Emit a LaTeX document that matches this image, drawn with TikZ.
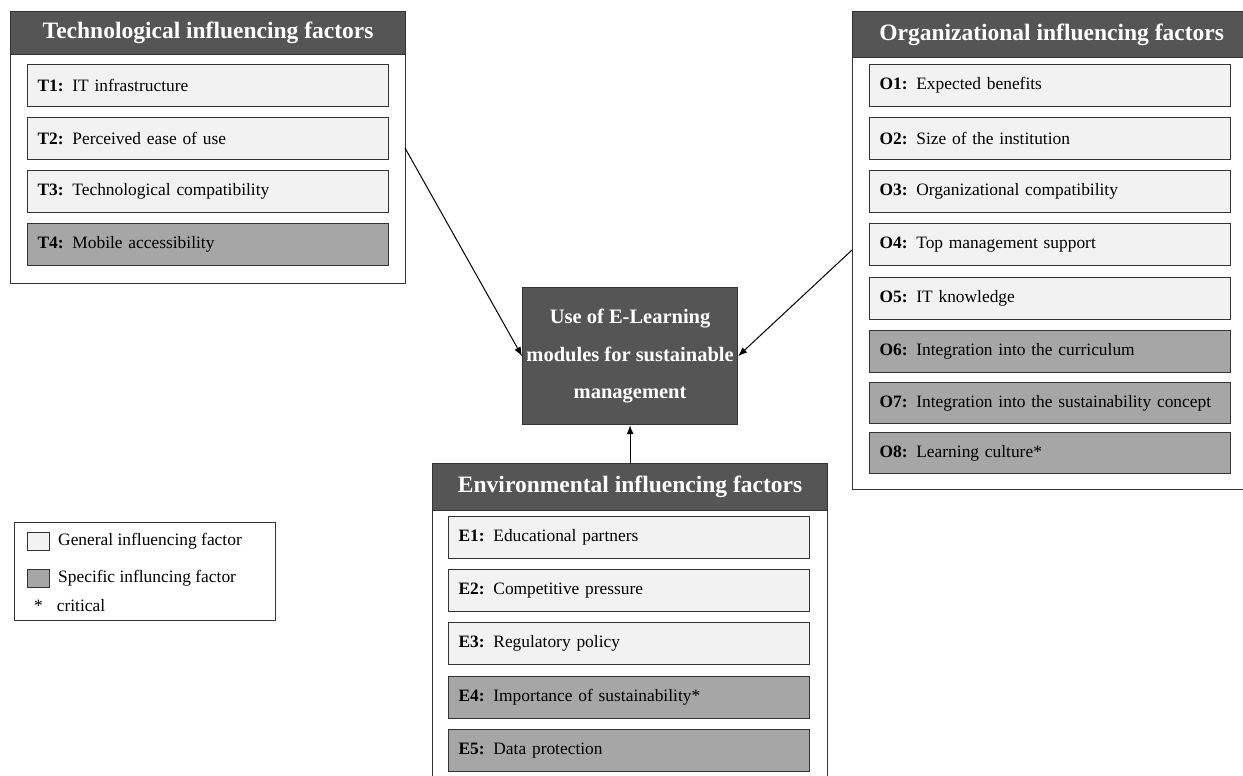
\documentclass[tikz,border=0pt]{standalone}
\usepackage{fontspec}
\setmainfont{Liberation Serif}
\usetikzlibrary{arrows.meta,calc}
\definecolor{headgray}{HTML}{555555}
\definecolor{lightfill}{HTML}{F2F2F2}
\definecolor{darkfill}{HTML}{A6A6A6}
\definecolor{edgegray}{HTML}{333333}
\tikzset{
  panel/.style={draw=edgegray, line width=1.2pt, fill=white, anchor=north west, inner sep=0pt},
  headbox/.style={draw=edgegray, line width=1.2pt, fill=headgray, anchor=north west, inner sep=0pt,
     text=white, font=\fontsize{23.5}{28}\selectfont\bfseries},
  item/.style={draw=edgegray, line width=1.2pt, anchor=north west, minimum height=42pt,
     text width=341pt, inner xsep=10pt, inner ysep=0pt, align=left,
     font=\fontsize{17.4}{20}\selectfont},
  gen/.style={item, fill=lightfill},
  spec/.style={item, fill=darkfill},
  centerbox/.style={draw=edgegray, line width=1.2pt, fill=headgray, anchor=north west,
     minimum width=215pt, minimum height=137pt, inner sep=0pt, align=center, text=white,
     font=\fontsize{20.5}{37.5}\selectfont\bfseries},
  arr/.style={line width=1pt, -{Latex[length=9pt,width=7pt]}},
  swatch/.style={draw=edgegray, line width=1pt, minimum width=22pt, minimum height=18pt, anchor=north west, inner sep=0pt},
  legtext/.style={anchor=west, inner sep=0pt, font=\fontsize{17.4}{20}\selectfont}
}
\begin{document}
\begin{tikzpicture}[x=1pt,y=-1pt]
\useasboundingbox (0,0) rectangle (1243,776);
\clip (0,0) rectangle (1243,776);
% Technological panel
\node[panel, minimum width=395pt, minimum height=272pt] (tpanel) at (10,11) {};
\node[headbox, minimum width=395pt, minimum height=43pt] (thead) at (10,11) {Technological influencing factors};
\node[gen] (t1) at (27,64) {\textbf{T1:} IT infrastructure};
\node[gen] (t2) at (27,117) {\textbf{T2:} Perceived ease of use};
\node[gen] (t3) at (27,170) {\textbf{T3:} Technological compatibility};
\node[spec] (t4) at (27,223) {\textbf{T4:} Mobile accessibility};
% Organizational panel
\node[panel, minimum width=398pt, minimum height=478pt] (opanel) at (852,11) {};
\node[headbox, minimum width=398pt, minimum height=46pt] (ohead) at (852,11) {Organizational influencing factors};
\node[gen] (o1) at (869,64) {\textbf{O1:} Expected benefits};
\node[gen] (o2) at (869,117) {\textbf{O2:} Size of the institution};
\node[gen] (o3) at (869,170) {\textbf{O3:} Organizational compatibility};
\node[gen] (o4) at (869,223) {\textbf{O4:} Top management support};
\node[gen] (o5) at (869,277) {\textbf{O5:} IT knowledge};
\node[spec] (o6) at (869,330) {\textbf{O6:} Integration into the curriculum};
\node[spec, minimum height=41pt] (o7) at (869,382) {\textbf{O7:} Integration into the sustainability concept};
\node[spec, minimum height=41pt] (o8) at (869,432) {\textbf{O8:} Learning culture*};
% Center
\node[centerbox] (center) at (522,287) {Use of E-Learning\\modules for sustainable\\management};
% Environmental panel
\node[panel, minimum width=395pt, minimum height=330pt] (epanel) at (432,463) {};
\node[headbox, minimum width=395pt, minimum height=47pt] (ehead) at (432,463) {Environmental influencing factors};
\node[gen] (e1) at (448,516) {\textbf{E1:} Educational partners};
\node[gen] (e2) at (448,569) {\textbf{E2:} Competitive pressure};
\node[gen] (e3) at (448,622) {\textbf{E3:} Regulatory policy};
\node[spec] (e4) at (448,676) {\textbf{E4:} Importance of sustainability*};
\node[spec] (e5) at (448,729) {\textbf{E5:} Data protection};
% Arrows
\coordinate (ta) at (405,148);
\coordinate (oa) at (852,250);
\draw[arr] (ta) -- (center.west);
\draw[arr] (oa) -- (center.east);
\draw[arr] (ehead.north) -- (center.south);
% Legend
\node[draw=edgegray, line width=1pt, anchor=north west, minimum width=261pt, minimum height=98pt, inner sep=0pt] (legend) at (14,522) {};
\node[swatch, fill=lightfill] (sw1) at (27,532) {};
\node[swatch, fill=darkfill] (sw2) at (27,569) {};
\node[legtext] (l1) at (58,541) {General influencing factor};
\node[legtext] (l2) at (58,578) {Specific influncing factor};
\node[legtext] (l3) at (34,606) {*\hspace{14pt}critical};
\end{tikzpicture}
\end{document}
